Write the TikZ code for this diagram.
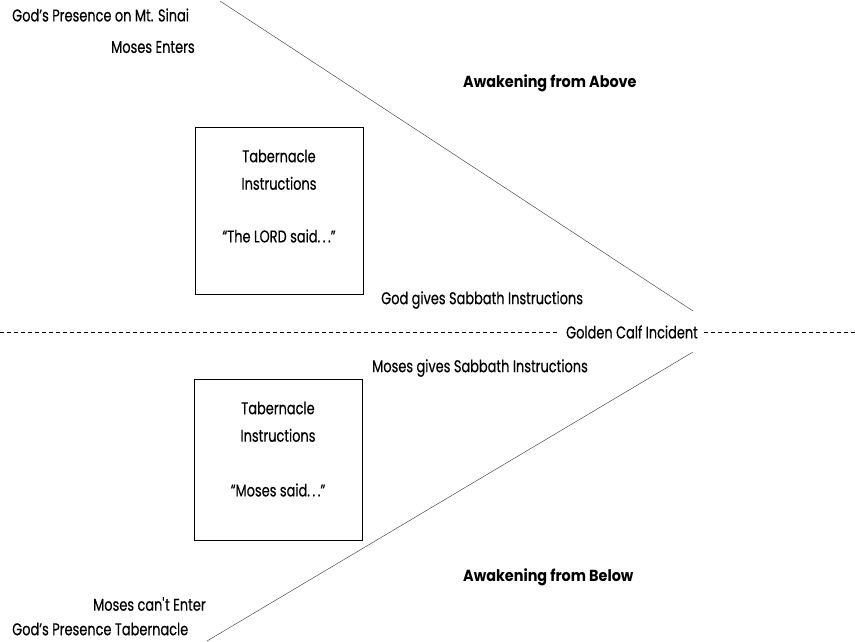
\documentclass[tikz,border=0pt]{standalone}
\usepackage{fontspec}
\setmainfont{Poppins}[FakeStretch=0.76, FakeBold=0.4]
\newfontfamily\headfont{Poppins}[FakeStretch=0.9]
\usetikzlibrary{positioning}
\newcommand{\spdots}{.\kern2.5pt.\kern2.5pt.}

\begin{document}
\begin{tikzpicture}[x=1pt, y=-1pt,
    lbl/.style={font=\fontsize{17}{20}\selectfont, inner sep=0pt, anchor=west},
    mid/.style={font=\fontsize{17}{20}\selectfont, inner sep=0pt},
    head/.style={font=\headfont\bfseries\fontsize{16}{19}\selectfont, inner sep=0pt, anchor=west},
    tbox/.style={draw, line width=0.8pt, minimum width=168pt, inner sep=0pt},
    edge/.style={line width=0.5pt, black!70},
    divider/.style={line width=0.6pt, dash pattern=on 4pt off 3pt}
]
\useasboundingbox (0,0) rectangle (855,641);

% the two converging lines
\coordinate (topend) at (220,1);
\coordinate (tipA) at (693,311);
\coordinate (tipB) at (693,352);
\coordinate (botend) at (207,641);
\draw[edge] (topend) -- (tipA);
\draw[edge] (tipB) -- (botend);

% golden calf divider
\node[mid] (calf) at (632,332) {Golden Calf Incident};
\coordinate (dashL) at (0,332);
\coordinate (dashR) at (855,332);
\draw[divider] (dashL) -- ([xshift=-6pt]calf.west);
\draw[divider] ([xshift=6pt]calf.east) -- (dashR);

% upper half
\node[lbl] (sinai) at (12,15) {God’s Presence on Mt. Sinai};
\node[lbl] (enters) at (111,47) {Moses Enters};
\node[head] (above) at (463,83) {Awakening from Above};
\node[tbox, minimum height=167pt] (box1) at (279,210.5) {};
\node[mid] (tab1) at (279,156) {Tabernacle};
\node[mid, below=14pt of tab1] (ins1) {Instructions};
\node[mid] (said1) at (279,236) {“The LORD said\spdots”};
\node[lbl] (godgives) at (381,300) {God gives Sabbath Instructions};

% lower half
\node[lbl] (mosesgives) at (372,368) {Moses gives Sabbath Instructions};
\node[tbox, minimum height=161pt] (box2) at (278,459.5) {};
\node[mid] (tab2) at (278,408) {Tabernacle};
\node[mid, below=14pt of tab2] (ins2) {Instructions};
\node[mid] (said2) at (278,490) {“Moses said\spdots”};
\node[head] (below) at (463,577) {Awakening from Below};
\node[lbl] (cantenter) at (93,604) {Moses can\textquotesingle t Enter};
\node[lbl] (tabernacle) at (12,629) {God’s Presence Tabernacle};
\end{tikzpicture}
\end{document}
